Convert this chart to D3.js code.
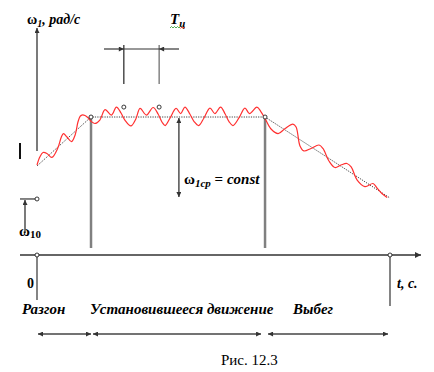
<!DOCTYPE html>
<html>
<head>
<meta charset="utf-8">
<script src="https://cdn.jsdelivr.net/npm/d3@7"></script>
<style>
  html, body { margin: 0; padding: 0; background: #fff; }
</style>
</head>
<body>
<div id="chart"></div>
<script>
// angular speed ω1 (% of steady value) against time t (s)
const tSeries = [
  0, 0.08, 0.17, 0.28, 0.42, 0.59, 0.69, 0.75, 0.85, 0.98, 1.08, 1.16, 1.22, 1.27, 1.36, 1.44, 1.54,
  1.64, 1.78, 1.93, 2.11, 2.25, 2.38, 2.49,
  2.66, 2.80, 2.92, 3.10, 3.29, 3.43, 3.54,
  3.63, 3.77, 3.94, 4.07, 4.19, 4.33, 4.45,
  4.58, 4.73, 4.90, 5.04, 5.20, 5.33, 5.44,
  5.55, 5.72, 5.89, 6.02, 6.23, 6.35, 6.46,
  6.63, 6.83, 7.03, 7.25, 7.34, 7.45, 7.56, 7.76, 7.99, 8.10, 8.27,
  8.44, 8.61, 8.78, 8.90, 9.07, 9.29, 9.52, 9.63, 9.77, 9.92
];
const wSeries = [
  65.2, 71.0, 74.3, 73.6, 70.7, 77.5, 85.5, 88.0, 85.5, 82.2, 87.0, 96.4, 100.4, 101.4, 101.1, 99.6, 96.7,
  95.3, 97.8, 105.4, 101.4, 107.2, 102.9, 97.8,
  93.5, 98.6, 106.2, 101.4, 106.9, 102.2, 96.4,
  93.8, 99.3, 106.2, 102.5, 107.2, 102.2, 96.7,
  93.8, 99.3, 106.5, 102.5, 107.2, 102.2, 96.7,
  93.8, 99.3, 106.5, 102.5, 107.2, 103.6, 98.9,
  91.3, 88.0, 91.7, 94.9, 92.8, 79.0, 75.4, 77.2, 79.7, 77.2, 68.1,
  63.4, 65.2, 66.3, 63.8, 54.3, 49.6, 51.8, 48.6, 44.6, 41.7
];

// mean speed trend (dotted)
const trendT = [0, 1.53, 6.46, 10];
const trendW = [64.5, 100, 100, 41.3];

// phases of motion
const phaseNames = ['Разгон', 'Установившееся движение', 'Выбег'];
const phaseBounds = [0, 1.53, 6.46, 10];

const w10 = 40.6;            // initial speed ω10
const cycleT = [2.46, 3.46]; // one cycle Tц
const cycleW = 107.2;
const meanArrowT = 4.02;
const meanArrowW = [100, 42];

const W = 434, H = 372;
const FONT = '"Liberation Serif", "Times New Roman", "DejaVu Serif", serif';
const svg = d3.select('#chart').append('svg')
  .attr('width', W).attr('height', H)
  .attr('viewBox', `0 0 ${W} ${H}`)
  .style('font-family', FONT)
  .attr('font-family', FONT);

const x = d3.scaleLinear().domain([0, 10]).range([37, 390]);
const y = d3.scaleLinear().domain([0, 100]).range([255, 117]);

const defs = svg.append('defs');
function marker(id, color, w, h) {
  defs.append('marker')
    .attr('id', id)
    .attr('viewBox', '0 0 10 10')
    .attr('refX', 10).attr('refY', 5)
    .attr('markerWidth', w).attr('markerHeight', h)
    .attr('markerUnits', 'userSpaceOnUse')
    .attr('orient', 'auto-start-reverse')
    .append('path')
    .attr('d', 'M0,0 L10,5 L0,10 Z')
    .attr('fill', color);
}
marker('arr', '#333', 8, 6);
marker('arrSmall', '#333', 7, 5);

const ink = '#333';

// axes
svg.append('line')
  .attr('x1', x(0)).attr('x2', x(0)).attr('y1', 151).attr('y2', 28)
  .attr('stroke', ink).attr('stroke-width', 1.3)
  .attr('marker-end', 'url(#arrSmall)');
svg.append('line')
  .attr('x1', 20).attr('x2', 421).attr('y1', y(0)).attr('y2', y(0))
  .attr('stroke', ink).attr('stroke-width', 1.3)
  .attr('marker-end', 'url(#arr)');
// drops below axis at t=0 and t=end
svg.append('line')
  .attr('x1', x(0)).attr('x2', x(0)).attr('y1', y(0)).attr('y2', 300)
  .attr('stroke', ink).attr('stroke-width', 1.2);
svg.append('line')
  .attr('x1', x(10)).attr('x2', x(10)).attr('y1', y(0)).attr('y2', 306)
  .attr('stroke', ink).attr('stroke-width', 1.2);

// stray tick on the left
svg.append('line')
  .attr('x1', 20).attr('x2', 20).attr('y1', 143).attr('y2', 159)
  .attr('stroke', '#111').attr('stroke-width', 2);

// ω10 level
svg.append('line')
  .attr('x1', 20).attr('x2', x(0)).attr('y1', y(w10)).attr('y2', y(w10))
  .attr('stroke', ink).attr('stroke-width', 1.2);
svg.append('line')
  .attr('x1', 25).attr('x2', 25).attr('y1', 233).attr('y2', y(w10) + 1)
  .attr('stroke', ink).attr('stroke-width', 1.3)
  .attr('marker-end', 'url(#arrSmall)');

// grey phase boundaries
svg.selectAll('line.bound')
  .data(phaseBounds.slice(1, 3))
  .join('line')
  .attr('class', 'bound')
  .attr('x1', d => x(d)).attr('x2', d => x(d))
  .attr('y1', y(100) + 2).attr('y2', 248)
  .attr('stroke', '#808080').attr('stroke-width', 2.5);

// dotted trend
const trend = d3.range(trendT.length).map(i => [trendT[i], trendW[i]]);
svg.append('path')
  .attr('d', d3.line().x(d => x(d[0])).y(d => y(d[1]))(trend))
  .attr('fill', 'none').attr('stroke', '#444').attr('stroke-width', 1)
  .attr('stroke-dasharray', '1.2,1.2');

// red speed curve
const pts = tSeries.map((t, i) => [t, wSeries[i]]);
svg.append('path')
  .attr('d', d3.line().x(d => x(d[0])).y(d => y(d[1])).curve(d3.curveCatmullRom)(pts))
  .attr('fill', 'none').attr('stroke', '#ff3030').attr('stroke-width', 1.2);

// small circles
const circ = [[0, 0], [10, 0], [0, w10], [1.53, 100], [6.46, 100], [cycleT[0], cycleW], [cycleT[1], cycleW]];
svg.selectAll('circle.pt')
  .data(circ)
  .join('circle')
  .attr('class', 'pt')
  .attr('cx', d => x(d[0]))
  .attr('cy', d => y(d[1]))
  .attr('r', 2)
  .attr('fill', '#fff').attr('stroke', '#222').attr('stroke-width', 0.9);

// Tц bracket
svg.selectAll('line.cyc')
  .data(cycleT)
  .join('line')
  .attr('class', 'cyc')
  .attr('x1', d => x(d)).attr('x2', d => x(d))
  .attr('y1', 45).attr('y2', 84)
  .attr('stroke', (d, i) => i ? '#666' : '#222').attr('stroke-width', 1.2);
svg.append('line')
  .attr('x1', x(cycleT[0])).attr('x2', x(cycleT[1])).attr('y1', 49).attr('y2', 49)
  .attr('stroke', ink).attr('stroke-width', 1.2);
svg.append('line')
  .attr('x1', 104).attr('x2', x(cycleT[0])).attr('y1', 49).attr('y2', 49)
  .attr('stroke', ink).attr('stroke-width', 1.2)
  .attr('marker-end', 'url(#arrSmall)');
svg.append('line')
  .attr('x1', 179).attr('x2', x(cycleT[1])).attr('y1', 49).attr('y2', 49)
  .attr('stroke', ink).attr('stroke-width', 1.2)
  .attr('marker-end', 'url(#arrSmall)');

// ω1ср arrow
svg.append('line')
  .attr('x1', x(meanArrowT)).attr('x2', x(meanArrowT))
  .attr('y1', y(meanArrowW[0]) + 1).attr('y2', y(meanArrowW[1]))
  .attr('stroke', ink).attr('stroke-width', 1.3)
  .attr('marker-start', 'url(#arrSmall)')
  .attr('marker-end', 'url(#arrSmall)');

// phase arrows
const gaps = [[1, 0], [2, 4], [3, 2]];
svg.selectAll('line.phase')
  .data(phaseNames)
  .join('line')
  .attr('class', 'phase')
  .attr('x1', (d, i) => x(phaseBounds[i]) + gaps[i][0])
  .attr('x2', (d, i) => x(phaseBounds[i + 1]) - gaps[i][1])
  .attr('y1', 334).attr('y2', 334)
  .attr('stroke', '#444').attr('stroke-width', 1.4)
  .attr('marker-start', 'url(#arrSmall)')
  .attr('marker-end', 'url(#arrSmall)');

// texts
const bi = s => s.attr('font-weight', 'bold').attr('font-style', 'italic');

const lab = svg.append('text').attr('x', 27).attr('y', 24).attr('font-size', 14).attr('fill', '#000');
lab.append('tspan').attr('font-weight', 'bold').text('ω');
lab.append('tspan').call(bi).attr('font-size', 10).attr('dy', 3).text('1');
lab.append('tspan').call(bi).attr('dy', -3).text(', рад/с');

const tc = svg.append('text').attr('x', 170).attr('y', 24).attr('font-size', 15).attr('fill', '#000');
tc.append('tspan').call(bi).text('T');
tc.append('tspan').call(bi).attr('font-size', 11).attr('dy', 3).text('ц');
svg.append('path')
  .attr('d', 'M170,28 l1.5,-1.5 l1.5,1.5 l1.5,-1.5 l1.5,1.5 l1.5,-1.5 l1.5,1.5 l1.5,-1.5')
  .attr('fill', 'none').attr('stroke', '#2a9a2a').attr('stroke-width', 0.8);
svg.append('path')
  .attr('d', 'M180.5,28.5 l1.5,-1.5 l1.5,1.5 l1.5,-1.5')
  .attr('fill', 'none').attr('stroke', '#e02020').attr('stroke-width', 0.8);

const mean = svg.append('text').attr('x', 184).attr('y', 184).attr('font-size', 15).attr('fill', '#000');
mean.append('tspan').attr('font-weight', 'bold').text('ω');
mean.append('tspan').call(bi).attr('font-size', 11).attr('dy', 3).text('1ср');
mean.append('tspan').attr('font-weight', 'bold').attr('dy', -3).text(' = ');
mean.append('tspan').call(bi).text('const');

const w10t = svg.append('text').attr('x', 19).attr('y', 236).attr('font-size', 15).attr('fill', '#000');
w10t.append('tspan').attr('font-weight', 'bold').text('ω');
w10t.append('tspan').attr('font-weight', 'bold').attr('font-size', 11).attr('dy', 2).text('10');

svg.append('text').attr('x', 27).attr('y', 288).attr('font-size', 14)
  .attr('font-weight', 'bold').text('0');
svg.append('text').attr('x', 397).attr('y', 288).attr('font-size', 14)
  .call(bi).text('t, c.');

const labelX = [22, 90, 293];
svg.selectAll('text.phase')
  .data(phaseNames)
  .join('text')
  .attr('class', 'phase')
  .attr('x', (d, i) => labelX[i]).attr('y', 314)
  .attr('font-size', 15)
  .call(bi)
  .text(d => d);

svg.append('text').attr('x', 221).attr('y', 365).attr('font-size', 15)
  .text('Рис. 12.3');
</script>
</body>
</html>
